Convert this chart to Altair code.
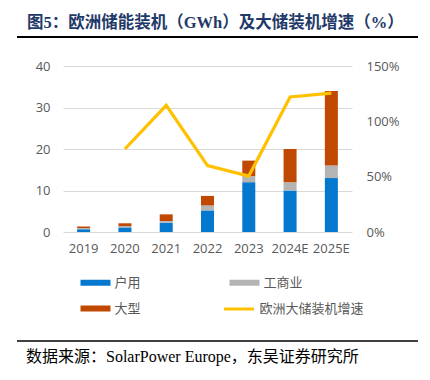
import altair as alt
import pandas as pd

years = ["2019", "2020", "2021", "2022", "2023", "2024E", "2025E"]
categories = ["户用", "工商业", "大型"]
household = [0.65, 1.1, 2.2, 5.2, 12.0, 10.0, 13.0]
commercial = [0.3, 0.35, 0.45, 1.2, 1.5, 2.0, 3.0]
utility = [0.4, 0.65, 1.6, 2.3, 3.7, 8.0, 18.0]
growth_years = ["2020", "2021", "2022", "2023", "2024E", "2025E"]
growth = [0.75, 1.145, 0.60, 0.505, 1.22, 1.255]
line_name = "欧洲大储装机增速"
title_text = "图5：欧洲储能装机（GWh）及大储装机增速（%）"
source_text = "数据来源：SolarPower Europe，东吴证券研究所"

color_map = {"户用": "#0477CF", "工商业": "#B4B4B4", "大型": "#C04800"}
legend_order = ["户用", "大型", "工商业"]  # column-major legend fill
line_color = "#FFC000"

rows = []
for i, y in enumerate(years):
    for k, (cat, vals) in enumerate(zip(categories, [household, commercial, utility])):
        rows.append({"year": y, "cat": cat, "value": vals[i], "ord": k})
bars_df = pd.DataFrame(rows)
line_df = pd.DataFrame({"year": growth_years, "growth": growth, "name": [line_name] * len(growth)})

xenc = alt.X("year:N", sort=years, title=None,
             scale=alt.Scale(paddingInner=0, paddingOuter=0),
             axis=alt.Axis(labelFontSize=13, labelColor="#595959", labelFont="Open Sans",
                           labelPadding=10, domain=False, ticks=False, grid=False, labelAngle=0))

bars = alt.Chart(bars_df).mark_bar(size=13).encode(
    x=xenc,
    y=alt.Y("value:Q", stack="zero", title=None,
            scale=alt.Scale(domain=[0, 40], nice=False),
            axis=alt.Axis(values=[0, 10, 20, 30, 40], grid=True, gridColor="#D9D9D9",
                          domain=False, ticks=False, labelFontSize=13, labelColor="#595959",
                          labelFont="Open Sans", labelPadding=13, orient="left")),
    color=alt.Color("cat:N", sort=legend_order,
                    scale=alt.Scale(domain=legend_order,
                                    range=[color_map[c] for c in legend_order]),
                    legend=alt.Legend(title=None, orient="none", legendX=25, legendY=209,
                                      columns=2, columnPadding=88, rowPadding=11,
                                      symbolType="M-2,-0.4H2V0.4H-2Z", symbolSize=225,
                                      symbolStrokeWidth=0, labelOffset=11.5,
                                      labelFontSize=13, labelColor="#595959",
                                      labelFont="Noto Sans CJK SC", padding=0)),
    order=alt.Order("ord:Q", sort="ascending"),
)

line = alt.Chart(line_df).mark_line(strokeWidth=3.2).encode(
    x=alt.X("year:N", sort=years),
    y=alt.Y("growth:Q", title=None,
            scale=alt.Scale(domain=[0, 1.5], nice=False),
            axis=alt.Axis(values=[0, 0.5, 1.0, 1.5], format=".0%", grid=False,
                          domain=False, ticks=False, labelFontSize=13, labelColor="#595959",
                          labelFont="Open Sans", labelPadding=14, orient="right")),
    stroke=alt.Stroke("name:N", scale=alt.Scale(domain=[line_name], range=[line_color]),
                      legend=alt.Legend(title=None, orient="none", legendX=167, legendY=234,
                                        symbolType="M-2,0H2", symbolSize=225,
                                        symbolStrokeWidth=3, labelOffset=11.5,
                                        labelFontSize=13, labelColor="#595959",
                                        labelFont="Noto Sans CJK SC", padding=0)),
)

one = pd.DataFrame({"a": [0]})
title_mark = alt.Chart(pd.DataFrame({"t": [title_text]})).mark_text(
    align="left", baseline="middle", fontSize=16.5, fontWeight="bold",
    font="Liberation Serif, Noto Sans CJK SC", color="#1F3A68"
).encode(text="t:N", x=alt.value(-36), y=alt.value(-43.5))

top_rule = alt.Chart(one).mark_rule(color="#000000", strokeWidth=2).encode(
    x=alt.value(-46), x2=alt.value(355), y=alt.value(-29))
bottom_rule = alt.Chart(one).mark_rule(color="#000000", strokeWidth=1.5).encode(
    x=alt.value(-46), x2=alt.value(355), y=alt.value(275))

source_mark = alt.Chart(pd.DataFrame({"t": [source_text]})).mark_text(
    align="left", baseline="middle", fontSize=16,
    font="Liberation Serif, Noto Sans CJK SC", color="#000000"
).encode(text="t:N", x=alt.value(-37), y=alt.value(290.5))

chart = alt.layer(bars, line, title_mark, top_rule, bottom_rule, source_mark).resolve_scale(
    y="independent", color="independent", stroke="independent"
).properties(
    width=289, height=166,
    autosize=alt.AutoSizeParams(type="none"),
    padding={"left": 55, "top": 58, "right": 66, "bottom": 136},
).configure_view(stroke=None)

chart.save("out.html", embed_options={"renderer": "svg", "actions": False})
